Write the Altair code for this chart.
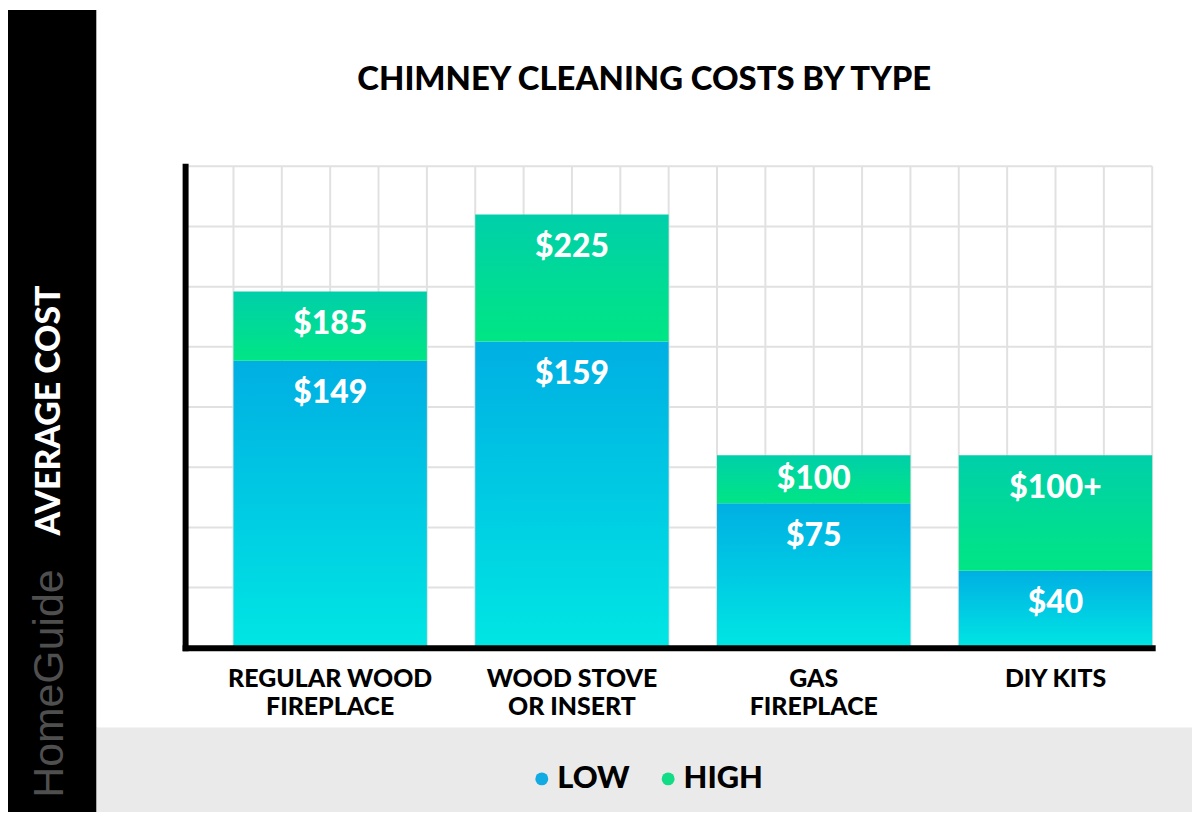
import altair as alt
import pandas as pd

# ---- data ----
categories = ["REGULAR WOOD\nFIREPLACE", "WOOD STOVE\nOR INSERT", "GAS\nFIREPLACE", "DIY KITS"]
low_values = [149, 159, 75, 40]
high_values = [185, 225, 100, 100]
low_labels = ["$149", "$159", "$75", "$40"]
high_labels = ["$185", "$225", "$100", "$100+"]
series_names = ["LOW", "HIGH"]
series_colors = ["#12aae2", "#12dc85"]

df = pd.DataFrame({
    "cat": categories,
    "low": low_values,
    "high": high_values,
    "low_label": low_labels,
    "high_label": high_labels,
})

FONT = "Lato"
MAIN_W, MAIN_H = 1101, 721
BAND_H = 85
SIDE_W = 89

y_scale = alt.Scale(domain=[0, 250], range=[641, 157], nice=False, zero=True)
x_scale = alt.Scale(domain=categories, range=[89, 1061], paddingInner=0.2, paddingOuter=0.1, align=1)
grid_scale = alt.Scale(domain=[0, 20], range=[89, 1061], nice=False, zero=False)

low_grad = alt.Gradient(gradient="linear",
                        stops=[alt.GradientStop(color="#00afe3", offset=0),
                               alt.GradientStop(color="#00e6e3", offset=1)],
                        x1=0, x2=0, y1=0, y2=1)
high_grad = alt.Gradient(gradient="linear",
                         stops=[alt.GradientStop(color="#00cfaa", offset=0),
                                alt.GradientStop(color="#00e684", offset=1)],
                         x1=0, x2=0, y1=0, y2=1)

x_axis = alt.Axis(orient="bottom", offset=-80, title=None, domainColor="black", domainWidth=6,
                  domainCap="square", ticks=False, labelAngle=0,
                  labelExpr="split(datum.label, '\\n')", labelFont=FONT, labelFontSize=25,
                  labelFontWeight=900, labelColor="black", labelPadding=19, labelBaseline="top",
                  labelLineHeight=28, labelLimit=400, grid=False, zindex=2)
y_axis = alt.Axis(orient="left", offset=-89, title="AVERAGE COST", titleFont=FONT, titleFontSize=34,
                  titleFontWeight=900, titleColor="white", titleAngle=270, titleX=-136, titleY=402,
                  titleAlign="center", titleBaseline="middle", domainColor="black", domainWidth=6,
                  domainCap="square", ticks=False, labels=False, grid=False, zindex=2)

# ---- grid ----
grid_cols = pd.DataFrame({"col": list(range(21))})
grid_rows = pd.DataFrame({"gv": [i * 250 / 8 for i in range(9)]})

vgrid = alt.Chart(grid_cols).mark_rule(color="#e1e1e1", strokeWidth=2).transform_calculate(
    y0="0", y1="250").encode(
    x=alt.X("col:Q", scale=grid_scale, axis=None),
    y=alt.Y("y0:Q", scale=y_scale, axis=None),
    y2="y1:Q")
hgrid = alt.Chart(grid_rows).mark_rule(color="#e1e1e1", strokeWidth=2).transform_calculate(
    x0="0", x1="20").encode(
    y=alt.Y("gv:Q", scale=y_scale, axis=None),
    x=alt.X("x0:Q", scale=grid_scale, axis=None),
    x2="x1:Q")
grid_layer = alt.layer(vgrid, hgrid)

# ---- bars & labels ----
base = alt.Chart(df)
low_bars = base.mark_bar(color=low_grad).encode(
    x=alt.X("cat:N", scale=x_scale, axis=x_axis),
    y=alt.Y("low:Q", scale=y_scale, axis=y_axis))
high_bars = base.mark_bar(color=high_grad).encode(
    x=alt.X("cat:N", scale=x_scale, axis=x_axis),
    y=alt.Y("high:Q", scale=y_scale, axis=y_axis),
    y2="low:Q")
text_style = dict(font=FONT, fontSize=32, fontWeight=900, color="white", align="center", baseline="middle")
high_text = base.transform_calculate(
    hi_pos="datum.high - min(17, (datum.high - datum.low) / 2)").mark_text(**text_style).encode(
    x=alt.X("cat:N", scale=x_scale, axis=x_axis),
    y=alt.Y("hi_pos:Q", scale=y_scale, axis=y_axis),
    text="high_label:N")
low_text = base.transform_calculate(
    lo_pos="datum.low - min(17, datum.low / 2)").mark_text(**text_style).encode(
    x=alt.X("cat:N", scale=x_scale, axis=x_axis),
    y=alt.Y("lo_pos:Q", scale=y_scale, axis=y_axis),
    text="low_label:N")
data_layer = alt.layer(low_bars, high_bars, high_text, low_text)

main = alt.layer(grid_layer, data_layer).resolve_scale(x="independent").resolve_axis(
    x="independent", y="independent").properties(
    width=MAIN_W, height=MAIN_H,
    title=alt.TitleParams(text="CHIMNEY CLEANING COSTS BY TYPE", font=FONT, fontSize=33,
                          fontWeight=900, color="black", anchor="middle", baseline="middle",
                          offset=-103, frame="group"),
    view=alt.ViewBackground(fill="white", strokeWidth=0))

# ---- legend band ----
legend = alt.Legend(orient="none", legendX=521, legendY=757, direction="horizontal", title=None,
                    symbolType="circle", symbolSize=169, symbolOpacity=1, symbolStrokeWidth=0,
                    labelFont=FONT, labelFontSize=31, labelFontWeight=900, labelColor="black",
                    labelOffset=0, columnPadding=23, padding=0)
band = alt.Chart(pd.DataFrame({"series": series_names})).mark_circle(opacity=0).encode(
    color=alt.Color("series:N", scale=alt.Scale(domain=series_names, range=series_colors), legend=legend)
).properties(width=MAIN_W, height=BAND_H, view=alt.ViewBackground(fill="#eaeaea", strokeWidth=0))

# ---- sidebar ----
sidebar = alt.Chart(pd.DataFrame({"brand": ["HomeGuide"]})).mark_text(
    font="Liberation Sans", fontSize=43, color="#4f4f4f", angle=270, align="center", baseline="middle"
).encode(text="brand:N", x=alt.value(42), y=alt.value(677)).properties(
    width=SIDE_W, height=MAIN_H + BAND_H, view=alt.ViewBackground(fill="black", strokeWidth=0))

right = alt.vconcat(main, band, spacing=0, bounds="flush")
chart = alt.hconcat(sidebar, right, spacing=0, bounds="flush").properties(padding=0).configure_view(
    strokeWidth=0)

chart.save("out.html", embed_options={"renderer": "svg", "actions": False})
